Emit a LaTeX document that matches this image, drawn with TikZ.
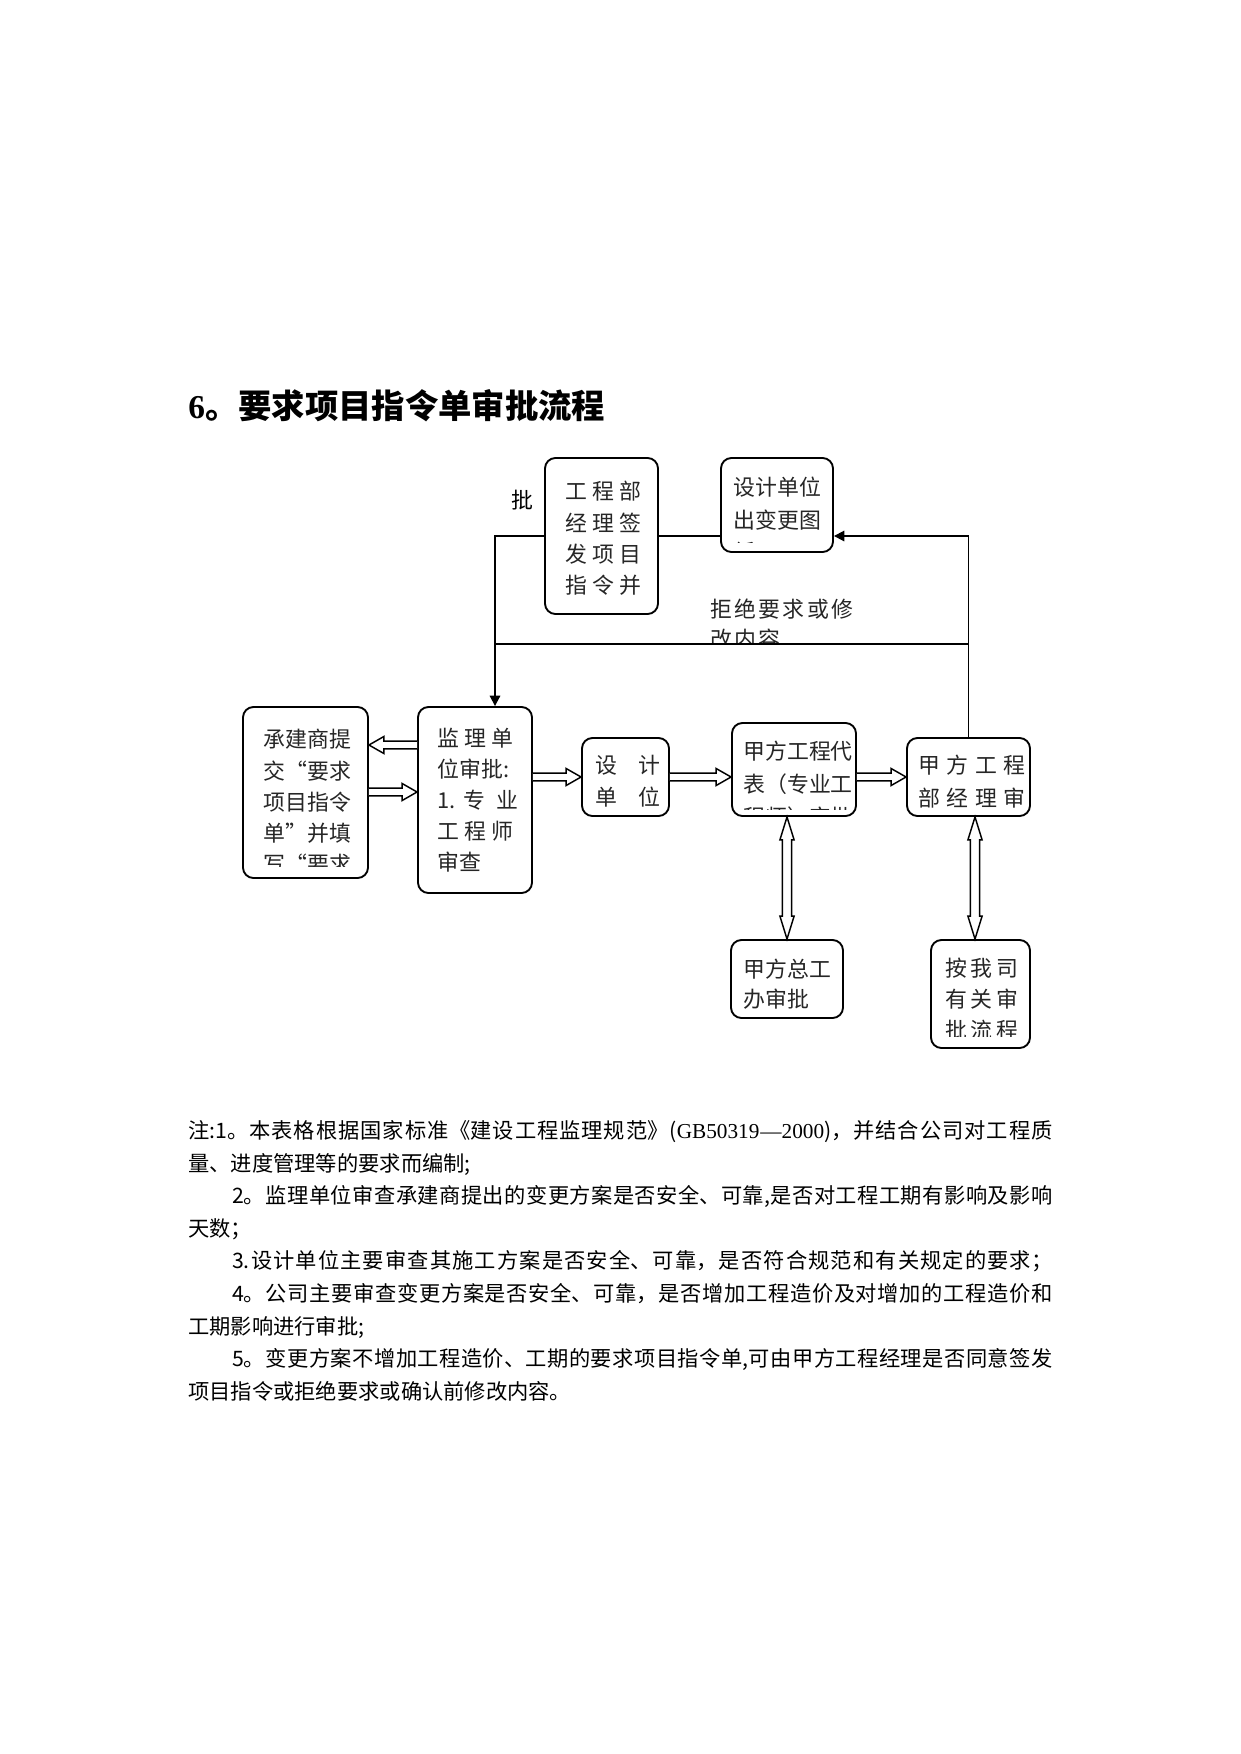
\documentclass[tikz,border=0pt]{standalone}
\usepackage{fontspec}
\setmainfont{Noto Sans CJK SC}
\newfontfamily\lserif{Liberation Serif}
\usepackage{tikz}
\usetikzlibrary{arrows.meta,calc,positioning}

\XeTeXlinebreaklocale "zh"
\XeTeXlinebreakskip=0pt plus 1pt

\newcommand\gp[1][2.4pt]{\hspace{#1}}

\begin{document}
\begin{tikzpicture}[
  x=0.4797pt, y=-0.4797pt,
  box/.style={draw,rounded corners=5pt,line width=0.9pt,fill=white,inner sep=0pt},
  sz/.style 2 args={minimum width=#1*0.4797pt,minimum height=#2*0.4797pt},
  lead/.style={font=\fontsize{10.5pt}{#1}\selectfont},
  txt/.style={anchor=north west,inner sep=0pt,align=left,lead=15pt,text=black!85},
  line/.style={line width=0.9pt},
  tip/.style={-{Triangle[length=5pt,width=5pt]}},
  fat/.style={line width=0.7pt,fill=white,to path={
    let \p1=($(\tikztotarget)!7.2pt!(\tikztostart)$) in
    ($(\tikztostart)!1.9pt!90:(\tikztotarget)$) -- ($(\p1)!1.9pt!90:(\tikztotarget)$)
    -- ($(\p1)!4.1pt!90:(\tikztotarget)$) -- (\tikztotarget)
    -- ($(\p1)!4.1pt!-90:(\tikztotarget)$) -- ($(\p1)!1.9pt!-90:(\tikztotarget)$)
    -- ($(\tikztostart)!1.9pt!-90:(\tikztotarget)$)}},
  fatboth/.style={line width=0.7pt,fill=white,to path={
    let \p1=($(\tikztostart)!11pt!(\tikztotarget)$),
        \p2=($(\tikztotarget)!11pt!(\tikztostart)$) in
    (\tikztostart) -- ($(\p1)!3.4pt!90:(\tikztotarget)$) -- ($(\p1)!2.2pt!90:(\tikztotarget)$)
    -- ($(\p2)!2.2pt!-90:(\tikztostart)$) -- ($(\p2)!3.4pt!-90:(\tikztostart)$) -- (\tikztotarget)
    -- ($(\p2)!3.4pt!90:(\tikztostart)$) -- ($(\p2)!2.2pt!90:(\tikztostart)$)
    -- ($(\p1)!2.2pt!-90:(\tikztotarget)$) -- ($(\p1)!3.4pt!-90:(\tikztotarget)$) -- cycle}},
  note/.style={anchor=north west,inner sep=0pt,text width=414.5pt,align=justify,
    font=\fontsize{10.2pt}{15.64pt}\selectfont,
    execute at begin node={\parindent=0pt\tolerance=9999\relax}},
]
\useasboundingbox (0,0) rectangle (1241,1754);

\node[anchor=west,inner sep=0pt,font=\fontsize{16pt}{16pt}\selectfont\bfseries] (ttl)
  at (188,406) {{\lserif 6}。要求项目指令单审批流程};

% boxes
\node[box,sz={125}{171}] (cjs)  at (305.5,792.5) {};
\node[box,sz={114}{186}] (jl)   at (475,800) {};
\node[box,sz={87}{78}]   (sj)   at (625.5,777) {};
\node[box,sz={124}{93}]  (jfdb) at (794,769.5) {};
\node[box,sz={123}{78}]  (jfjl) at (968.5,777) {};
\node[box,sz={112}{78}]  (zg)   at (787,979) {};
\node[box,sz={99}{108}]  (asp)  at (980.5,994) {};
\node[box,sz={113}{156}] (gcb)  at (601.5,536) {};
\node[box,sz={112}{94}]  (sjbg) at (777,505) {};

% texts in the boxes
\begin{scope}
  \clip (cjs.north west) rectangle ([yshift=5.8pt]cjs.south east);
  \node[txt] (cjs-t) at (263,729) {承建商提\\交“要求\\项目指令\\单”并填\\写“要求};
\end{scope}
\node[txt,lead=14.8pt] (jl-t) at (437,728) {监\gp 理\gp 单\\位审批:\\1.\gp[4pt]专\gp[5pt]业\\工\gp 程\gp 师\\审查};
\node[txt] (sj-t) at (595,755) {设\gp[10pt]计\\单\gp[10pt]位};
\begin{scope}
  \clip (jfdb.north west) rectangle ([yshift=3.6pt]jfdb.south east);
  \node[txt,lead=15.8pt] (jfdb-t) at (743,741) {甲方工程代\\表（专业工\\程师）审批};
\end{scope}
\node[txt,lead=15.8pt] (jfjl-t) at (918,755) {甲\gp[3.1pt]方\gp[3.1pt]工\gp[3.1pt]程\\部\gp[3.1pt]经\gp[3.1pt]理\gp[3.1pt]审};
\node[txt,lead=14pt] (zg-t) at (743,959) {甲方总工\\办审批};
\begin{scope}
  \clip (asp.north west) rectangle ([yshift=6.2pt]asp.south east);
  \node[txt,lead=14.8pt] (asp-t) at (945,958) {按\gp[1.7pt]我\gp[1.7pt]司\\有\gp[1.7pt]关\gp[1.7pt]审\\批\gp[1.7pt]流\gp[1.7pt]程};
\end{scope}
\node[txt,lead=15pt] (gcb-t) at (565,481) {工\gp 程\gp 部\\经\gp 理\gp 签\\发\gp 项\gp 目\\指\gp 令\gp 并};
\begin{scope}
  \clip (sjbg.north west) rectangle ([yshift=4.8pt]sjbg.south east);
  \node[txt,lead=15.4pt] (sjbg-t) at (733,477) {设计单位\\出变更图\\纸};
\end{scope}
\begin{scope}
  \clip (700,585) rectangle (880,642);
  \node[txt,lead=14.4pt] (rej-t) at (710,598) {拒\gp[1.1pt]绝\gp[1.1pt]要\gp[1.1pt]求\gp[1.1pt]或\gp[1.1pt]修\\改\gp[1.1pt]内\gp[1.1pt]容};
\end{scope}
\node[font=\fontsize{10.5pt}{12pt}\selectfont,inner sep=0pt] (pi) at (522,500) {批};

% connectors
\coordinate (drop) at (495,0 |- jl.north);
\draw[line] (gcb.east) -- (sjbg.west |- gcb.east);
\draw[line,tip] (gcb.west) -| (drop);
\draw[line] (jfjl.north |- 0,644) -- (drop |- 0,644);
\draw[line,tip] (jfjl.north) |- (sjbg.east |- 0,536);

\draw[fat] (jl.west |- 0,745) to (cjs.east |- 0,745);
\draw[fat] (cjs.east |- 0,792) to (jl.west |- 0,792);
\draw[fat] (jl.east |- sj.west) to (sj.west);
\draw[fat] (sj.east) to (jfdb.west |- sj.east);
\draw[fat] (jfdb.east |- jfjl.west) to (jfjl.west);
\draw[fatboth] (zg.north |- jfdb.south) to (zg.north);
\draw[fatboth] (975,0 |- jfjl.south) to (975,0 |- asp.north);

% notes
\node[note] (nt) at (188,1120) {注:1。本表格根据国家标准《建设工程监理规范》({\lserif GB50319—2000})，并结合公司对工程质\linebreak 量、进度管理等的要求而编制;\par
\hspace*{21pt}2。监理单位审查承建商提出的变更方案是否安全、可靠,是否对工程工期有影响及影响\linebreak 天数；\par
{\parfillskip=0pt \hspace*{21pt}3.设计单位主要审查其施工方案是否安全、可靠，是否符合规范和有关规定的要求；\par}
\hspace*{21pt}4。公司主要审查变更方案是否安全、可靠，是否增加工程造价及对增加的工程造价和\linebreak 工期影响进行审批;\par
\hspace*{21pt}5。变更方案不增加工程造价、工期的要求项目指令单,可由甲方工程经理是否同意签发\linebreak 项目指令或拒绝要求或确认前修改内容。};
\end{tikzpicture}
\end{document}
